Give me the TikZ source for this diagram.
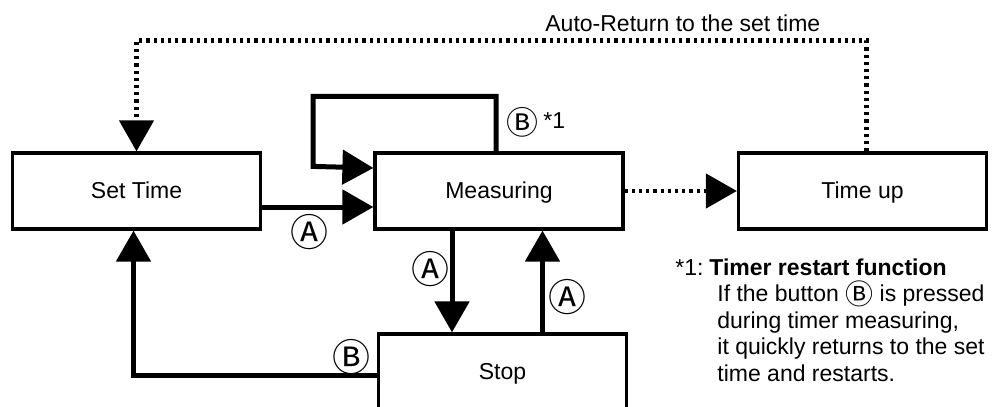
\documentclass[tikz,border=0pt]{standalone}
\usepackage{fontspec}
\setmainfont{Liberation Sans}
\newfontfamily\keyfont{Noto Sans CJK JP}
\usetikzlibrary{arrows.meta,calc}

% circled button letters
\newcommand{\keyA}{{\keyfont Ⓐ}}
\newcommand{\keyB}{{\keyfont Ⓑ}}

\begin{document}
\begin{tikzpicture}[x=0.5pt,y=-0.5pt,
  state/.style={draw, line width=1.6pt, minimum width=124pt, minimum height=38pt,
    inner sep=0pt, text height=9pt, text depth=2pt, font=\fontsize{11.5}{14}\selectfont},
  flow/.style={line width=2.5pt, -{Triangle[length=15.5pt,width=17pt]}},
  autoflow/.style={line width=2.2pt, dash pattern=on 1.6pt off 2pt,
    -{Triangle[length=15.5pt,width=17pt]}},
  key/.style={inner sep=0pt, font=\fontsize{19}{19}\selectfont},
  txt/.style={inner sep=0pt, anchor=base west, font=\fontsize{11.5}{14}\selectfont}]

\useasboundingbox (0,0) rectangle (1003,407);
\clip (0,0) rectangle (1003,407);

% states
\node[state] (settime)   at (136.5,191) {Set Time};
\node[state] (measuring) at (499,191)   {Measuring};
\node[state] (timeup)    at (862.5,191) {Time up};
\node[state] (stop)      at (502.5,372) {Stop};

% button transitions
\draw[flow] ($(settime.east)+(0,16)$) -- ($(measuring.west)+(0,16)$);
\draw[flow] ($(measuring.north)+(-3,0)$) -- ++(0,-55) -- ++(-183,0) -- ++(0,70)
  -- ($(measuring.west)+(0,-23)$);
\draw[flow] ($(measuring.south)+(-47,0)$) coordinate (ms) -- (ms |- stop.north);
\draw[flow] ($(stop.north)+(40,0)$) coordinate (sm) -- (sm |- measuring.south);
\draw[flow] ($(stop.west)+(0,3)$) -| ($(settime.south)+(-3,0)$);

% automatic transitions
\draw[autoflow] (measuring.east) -- (timeup.west);
\draw[autoflow] ($(timeup.north)+(4,0)$) -- ++(0,-111) -| (settime.north);

% transition labels
\node[key] (ka1) at (309,232) {\keyA};
\node[key] (ka2) at (430,269) {\keyA};
\node[key] (ka3) at (567,297) {\keyA};
\node[key] (kb1) at (351,357) {\keyB};
\node[key, font=\fontsize{16}{16}\selectfont] (kb2) at (522,122) {\keyB};
\node[txt] (star) at (543,128) {*1};
\node[txt] (autolbl) at (545,32) {Auto-Return to the set time};

% footnote
\node[txt] (fn)  at (675,275)   {*1:};
\node[txt] (fn1) at (709,275)   {\textbf{Timer restart function}};
\node[txt] (fn2) at (717,301.5) {If the button \smash{\raisebox{-1.6pt}{\fontsize{14}{12}\selectfont\keyB}} is pressed};
\node[txt] (fn3) at (717,328)   {during timer measuring,};
\node[txt] (fn4) at (717,354.5) {it quickly returns to the set};
\node[txt] (fn5) at (717,381)   {time and restarts.};
\end{tikzpicture}
\end{document}
